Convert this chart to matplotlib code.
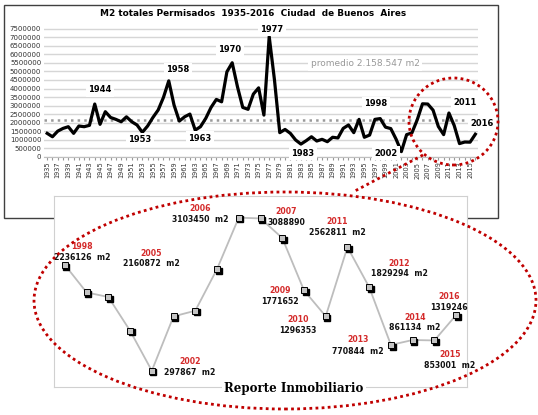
import matplotlib.pyplot as plt
import matplotlib.transforms as mtrans
from matplotlib.patches import Ellipse, Rectangle
from matplotlib.lines import Line2D

# tamaño en pixeles de la figura
W, H = 538, 415

# datos: m2 permisados por año (CABA)
anios = list(range(1935, 2017))
m2 = [1370000, 1170000, 1500000, 1660000, 1760000, 1370000, 1800000, 1760000,
      1840000, 3090000, 1900000, 2640000, 2300000, 2190000, 2050000, 2340000,
      2050000, 1860000, 1430000, 1800000, 2300000, 2740000, 3480000, 4450000,
      3030000, 2090000, 2340000, 2500000, 1560000, 1760000, 2250000, 2890000,
      3360000, 3220000, 4980000, 5510000, 4100000, 2890000, 2780000, 3670000,
      4040000, 2440000, 7050000, 4500000, 1410000, 1600000, 1370000, 980000,
      740000, 940000, 1170000, 920000, 1020000, 880000, 1140000, 1100000,
      1660000, 1860000, 1410000, 2190000, 1140000, 1270000, 2190000, 2236126,
      1733000, 1649000, 1031000, 297867, 1294000, 1398000, 2160872, 3103450,
      3088890, 2731000, 1771652, 1296353, 2562811, 1829294, 770844, 861134,
      853001, 1319246]
promedio = 2158547
y_ticks = list(range(0, 7500001, 500000))

# detalle 1998-2016
det_desde = 1998
det_anios = anios[det_desde - 1935:]
det_m2 = m2[det_desde - 1935:]

ROJO = '#c00000'


def fx(x):
    return x / W


def fy(y):
    return 1 - y / H


fig = plt.figure(figsize=(W / 100, H / 100), dpi=100)

# marco exterior del grafico de arriba
fig.add_artist(Rectangle((fx(4), fy(218)), (498 - 4) / W, (218 - 5) / H,
                         transform=fig.transFigure, fill=False,
                         ec='#404040', lw=1, zorder=-1))

# ---- grafico principal ----
ax = fig.add_axes([fx(44), fy(156.7), (478 - 44) / W, (156.7 - 28) / H])
ax.plot(anios, m2, color='black', lw=2.3, zorder=3)
ax.axhline(promedio, color='#9a9a9a', ls=':', lw=1.8, zorder=2)
ax.set_xlim(1934.4, 2016.5)
ax.set_ylim(0, 7550000)
ax.set_yticks(y_ticks)
ax.set_yticklabels([str(v) for v in y_ticks], fontsize=5, color='#333333')
ax.yaxis.grid(True, color='#d6d6d6', lw=1)
ax.set_axisbelow(True)
ax.set_xticks(anios)
ax.set_xticklabels([str(a) if (a - 1935) % 2 == 0 else '' for a in anios],
                   rotation=90, fontsize=4.8, color='#333333')
ax.tick_params(axis='y', length=0, pad=2)
ax.tick_params(axis='x', length=2, color='#999999', pad=1.5)
for s in ['top', 'right', 'left']:
    ax.spines[s].set_visible(False)
ax.spines['bottom'].set_color('#bfbfbf')

fig.text(fx(253), fy(14), 'M2 totales Permisados  1935-2016  Ciudad  de Buenos  Aires',
         ha='center', va='center', fontsize=6.4, fontweight='bold')

# años destacados
marcas = [('1944', 100, 90), ('1958', 178, 70), ('1970', 230, 50), ('1977', 272, 29),
          ('1953', 140, 140), ('1963', 200, 138), ('1983', 303, 153),
          ('1998', 376, 104), ('2002', 386, 153), ('2011', 465, 102),
          ('2016', 482, 124)]
for txt, x, y in marcas:
    fig.text(fx(x), fy(y), txt, ha='center', va='center', fontsize=6,
             fontweight='bold', bbox=dict(fc='white', ec='none', pad=1.5))

fig.text(fx(365), fy(64), 'promedio 2.158.547 m2', ha='center', va='center',
         fontsize=6.5, color='#999999', bbox=dict(fc='white', ec='none', pad=2))

# ---- detalle ----
ax2 = fig.add_axes([fx(54), fy(387), (467 - 54) / W, (387 - 196) / H])
ax2.set_xlim(1997.5, 2016.5)
ax2.set_ylim(0, 3500000)
ax2.set_xticks([])
ax2.set_yticks([])
for s in ax2.spines.values():
    s.set_color('#d0d0d0')
ax2.plot(det_anios, det_m2, color='#bdbdbd', lw=1.3, zorder=1)
sombra = mtrans.offset_copy(ax2.transData, fig=fig, x=1.6, y=-1.6, units='dots')
ax2.plot(det_anios, det_m2, ls='none', marker='s', ms=4.6, mfc='black',
         mec='black', transform=sombra, zorder=2)
ax2.plot(det_anios, det_m2, ls='none', marker='s', ms=4.6, mfc='#c4c4c4',
         mec='black', mew=0.7, zorder=3)

# etiquetas del detalle: año, posicion x, y, con "m2"
etiquetas = [(1998, 82, 246, True), (2002, 190, 361, True), (2005, 151, 253, True),
             (2006, 200, 208, True), (2007, 286, 211, False), (2009, 280, 290, False),
             (2010, 298, 319, False), (2011, 337, 221, True), (2012, 399, 263, True),
             (2013, 358, 340, True), (2014, 415, 317, True), (2015, 450, 354, True),
             (2016, 449, 296, False)]
for a, x, y, con_m2 in etiquetas:
    v = m2[a - 1935]
    fig.text(fx(x), fy(y), str(a), ha='center', va='center', fontsize=5.6,
             fontweight='bold', color='#d42a2a')
    fig.text(fx(x), fy(y + 11), f'{v}  m2' if con_m2 else str(v), ha='center',
             va='center', fontsize=5.6, fontweight='bold', color='#111111')

fig.text(fx(294), fy(388), 'Reporte Inmobiliario', ha='center', va='center',
         fontsize=8.5, fontweight='bold', family='DejaVu Serif',
         bbox=dict(fc='white', ec='none', pad=1.5))

# circulos punteados rojos
fig.add_artist(Ellipse((fx(453.5), fy(121.5)), 89 / W, 87 / H,
                       transform=fig.transFigure, fill=False, ec=ROJO,
                       ls=(0, (1, 1.2)), lw=2, zorder=6))
fig.add_artist(Ellipse((fx(285), fy(300.5)), 502 / W, 217 / H,
                       transform=fig.transFigure, fill=False, ec=ROJO,
                       ls=(0, (1, 1.2)), lw=2, zorder=6))
fig.add_artist(Line2D([fx(423), fx(353)], [fy(155), fy(192)],
                      transform=fig.transFigure, color=ROJO,
                      ls=(0, (1, 1.2)), lw=2, zorder=6))

fig.savefig('out.png', dpi=100)
